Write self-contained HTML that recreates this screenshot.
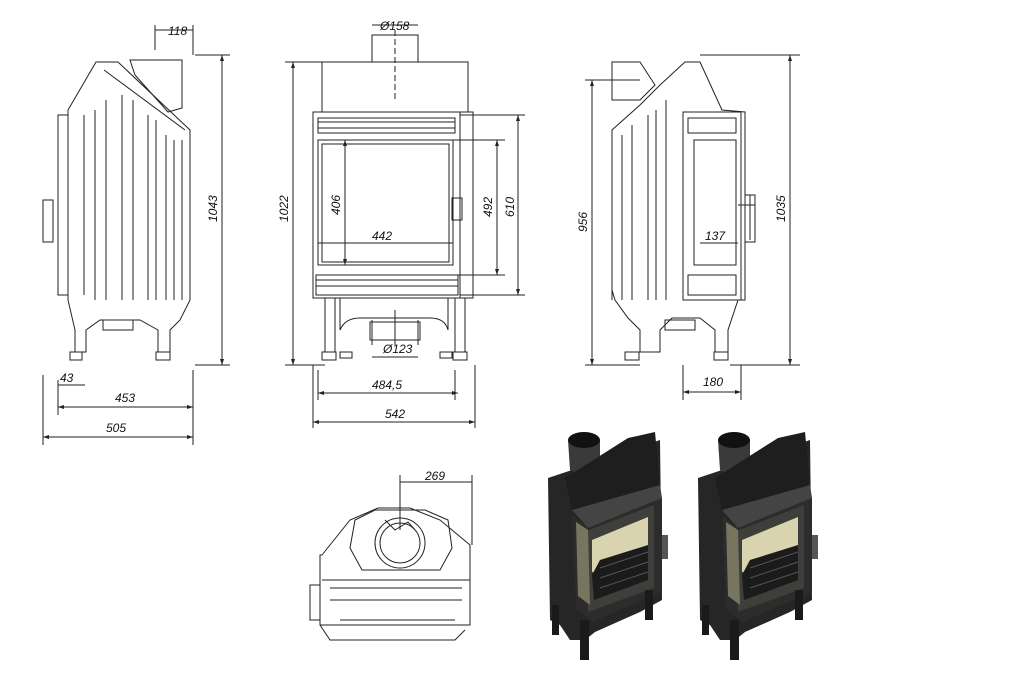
<!DOCTYPE html>
<html><head><meta charset="utf-8"><style>
html,body{margin:0;padding:0;background:#fff;}
svg{display:block;}
text{font-family:"Liberation Sans",sans-serif;font-size:12px;font-style:italic;fill:#111;}
</style></head><body>
<svg width="1017" height="695" viewBox="0 0 1017 695" xmlns="http://www.w3.org/2000/svg">
<g fill="none" stroke="#222" stroke-width="1">
<path d="M68 115 L68 110 L96 62 L118 62 L190 130 L190 300 L180 320 L170 330 L170 352 L158 352 L158 330 L140 320 L100 320 L86 330 L86 352 L75 352 L75 330 L68 300 Z"/>
<path d="M58 115 L68 115 L68 295 L58 295 Z"/>
<rect x="43" y="200" width="10" height="42"/>
<path d="M130 60 L182 60 L182 108 L168 112 L135 75 Z"/>
<path d="M104 70 L185 130"/>
<path d="M84 115 L84 295 M95 110 L95 300 M106 100 L106 300 M122 95 L122 300 M133 100 L133 300 M148 115 L148 300 M156 120 L156 300 M166 135 L166 300 M174 140 L174 300 M182 140 L182 300"/>
<rect x="103" y="320" width="30" height="10"/>
<rect x="70" y="352" width="12" height="8"/><rect x="156" y="352" width="14" height="8"/>
<path d="M43 375 L43 445 M58 380 L58 415 M193 370 L193 445 M58 385 L85 385 M58 407 L193 407 M43 437 L193 437"/>
<path d="M155 30 L193 30 M155 25 L155 50 M193 25 L193 55 M195 55 L230 55 M195 365 L230 365 M222 55 L222 365"/>
<rect x="322" y="62" width="146" height="50"/>
<rect x="372" y="35" width="46" height="27"/>
<path d="M395 30 L395 100" stroke-dasharray="6 3"/>
<path d="M372 25 L418 25 M285 62 L322 62 M285 365 L325 365 M293 62 L293 365"/>
<rect x="313" y="112" width="147" height="186"/>
<rect x="318" y="118" width="137" height="15"/>
<path d="M318 122 L455 122 M318 128 L455 128"/>
<rect x="318" y="140" width="135" height="125"/>
<rect x="322" y="144" width="127" height="118"/>
<rect x="452" y="198" width="10" height="22"/>
<rect x="316" y="275" width="142" height="20"/>
<path d="M316 280 L458 280 M316 286 L458 286"/>
<path d="M460 112 L473 112 L473 298 L460 298"/>
<path d="M340 298 L340 330 Q345 318 360 318 L430 318 Q445 318 448 330 L448 298"/>
<path d="M325 298 L325 352 M335 298 L335 352 M455 298 L455 352 M465 298 L465 352"/>
<rect x="370" y="322" width="50" height="18"/>
<path d="M372 320 L372 345 M418 320 L418 345 M372 357 L418 357 M395 310 L395 345" />
<rect x="322" y="352" width="14" height="8"/><rect x="340" y="352" width="12" height="6"/><rect x="440" y="352" width="12" height="6"/><rect x="453" y="352" width="14" height="8"/>
<path d="M313 365 L313 428 M475 365 L475 428 M318 370 L318 400 M455 370 L455 400 M318 393 L458 393 M313 422 L475 422"/>
<path d="M345 140 L345 265 M318 243 L453 243 M460 115 L525 115 M460 295 L525 295 M518 115 L518 295 M453 140 L505 140 M453 275 L505 275 M497 140 L497 275"/>
<path d="M612 130 L640 105 L660 85 L685 62 L700 62 L722 110 L745 112 L745 300 L738 300 L728 330 L728 352 L715 352 L715 330 L700 318 L672 318 L660 330 L660 352 L640 352 L640 330 L628 318 L615 300 L612 290 Z"/>
<path d="M612 62 L640 62 L655 85 L640 100 L612 100 Z"/>
<rect x="683" y="112" width="58" height="188"/>
<rect x="688" y="118" width="48" height="15"/>
<rect x="694" y="140" width="42" height="125"/>
<rect x="688" y="275" width="48" height="20"/>
<path d="M738 205 L755 205 M750 195 L750 240 M745 195 L755 195 L755 242 L745 242"/>
<path d="M612 140 L612 300 M622 135 L622 300 M632 125 L632 300 M648 115 L648 300 M656 110 L656 300 M666 100 L666 300"/>
<rect x="665" y="320" width="30" height="10"/>
<rect x="625" y="352" width="14" height="8"/><rect x="714" y="352" width="14" height="8"/>
<path d="M585 80 L640 80 M585 365 L640 365 M592 80 L592 365 M700 55 L800 55 M730 365 L800 365 M790 55 L790 365"/>
<path d="M700 243 L738 243 M683 365 L683 400 M741 365 L741 400 M683 392 L741 392"/>
<path d="M322 555 L350 520 L378 508 L410 508 L440 520 L470 545 L470 625 L320 625 L320 555 Z"/>
<path d="M322 580 L470 580 M330 588 L462 588 M330 600 L462 600 M340 620 L455 620"/>
<path d="M355 520 L375 510 L425 510 L448 520 L452 548 L440 570 L362 570 L350 548 Z"/>
<circle cx="400" cy="543" r="25"/>
<circle cx="400" cy="543" r="20"/>
<path d="M385 520 L395 530 L408 522 L415 530"/>
<path d="M320 585 L310 585 L310 620 L320 620 M320 625 L330 640 L455 640 L465 630"/>
<path d="M400 475 L400 530 M472 475 L472 545 M400 482 L472 482"/>
</g>
<g fill="#222">
<path d="M58 407 l6 -2 v4z M193 407 l-6 -2 v4z M43 437 l6 -2 v4z M193 437 l-6 -2 v4z M313 422 l6 -2 v4z M475 422 l-6 -2 v4z M318 393 l6 -2 v4z M458 393 l-6 -2 v4z M683 392 l6 -2 v4z M741 392 l-6 -2 v4z"/>
<path d="M222 55 l-2 6 h4z M222 365 l-2 -6 h4z M293 62 l-2 6 h4z M293 365 l-2 -6 h4z M790 55 l-2 6 h4z M790 365 l-2 -6 h4z M592 80 l-2 6 h4z M592 365 l-2 -6 h4z M518 115 l-2 6 h4z M518 295 l-2 -6 h4z M497 140 l-2 6 h4z M497 275 l-2 -6 h4z M345 140 l-2 6 h4z M345 265 l-2 -6 h4z"/>
</g>
<text x="168" y="35">118</text>
<text x="380" y="30">Ø158</text>
<text x="60" y="382">43</text>
<text x="115" y="402">453</text>
<text x="106" y="432">505</text>
<text x="372" y="389">484,5</text>
<text x="385" y="418">542</text>
<text x="383" y="353">Ø123</text>
<text x="372" y="240">442</text>
<text x="705" y="240">137</text>
<text x="703" y="386">180</text>
<text x="425" y="480">269</text>
<text transform="translate(217 222) rotate(-90)">1043</text>
<text transform="translate(288 222) rotate(-90)">1022</text>
<text transform="translate(340 215) rotate(-90)">406</text>
<text transform="translate(492 217) rotate(-90)">492</text>
<text transform="translate(514 217) rotate(-90)">610</text>
<text transform="translate(587 232) rotate(-90)">956</text>
<text transform="translate(785 222) rotate(-90)">1035</text>
<g>
<g id="fp">
<path d="M548 478 L572 470 L660 440 L662 600 L640 612 L595 632 L585 640 L570 640 L560 625 L550 620 Z" fill="#262626"/>
<path d="M568 440 Q582 428 600 440 L600 470 Q585 478 570 470 Z" fill="#3a3a3a"/>
<ellipse cx="584" cy="440" rx="16" ry="8" fill="#111"/>
<path d="M565 478 L628 438 L655 432 L660 485 L595 512 L572 510 Z" fill="#1e1e1e"/>
<path d="M572 510 L660 485 L662 498 L588 528 Z" fill="#444"/>
<path d="M572 515 L588 528 L662 498 L662 592 L592 622 L576 608 Z" fill="#2c2c2c"/>
<path d="M584 532 L654 505 L654 588 L588 612 Z" fill="#3e3e3a"/>
<path d="M592 540 L648 517 L648 555 L600 572 L592 572 Z" fill="#d9d3b0"/>
<path d="M600 560 L648 545 L648 580 L594 600 L592 575 Z" fill="#1b1b1b"/>
<path d="M600 568 L648 552 M600 578 L648 562 M600 588 L648 572" stroke="#555" stroke-width="1"/>
<path d="M576 522 L588 530 L590 605 L578 596 Z" fill="#77745f"/>
<rect x="662" y="535" width="6" height="24" fill="#555"/>
<rect x="580" y="620" width="9" height="40" fill="#1a1a1a"/>
<rect x="645" y="590" width="8" height="30" fill="#1a1a1a"/>
<rect x="552" y="605" width="7" height="30" fill="#1a1a1a"/>
</g>
<use href="#fp" x="150" y="0"/>
</g>
</svg>
</body></html>
